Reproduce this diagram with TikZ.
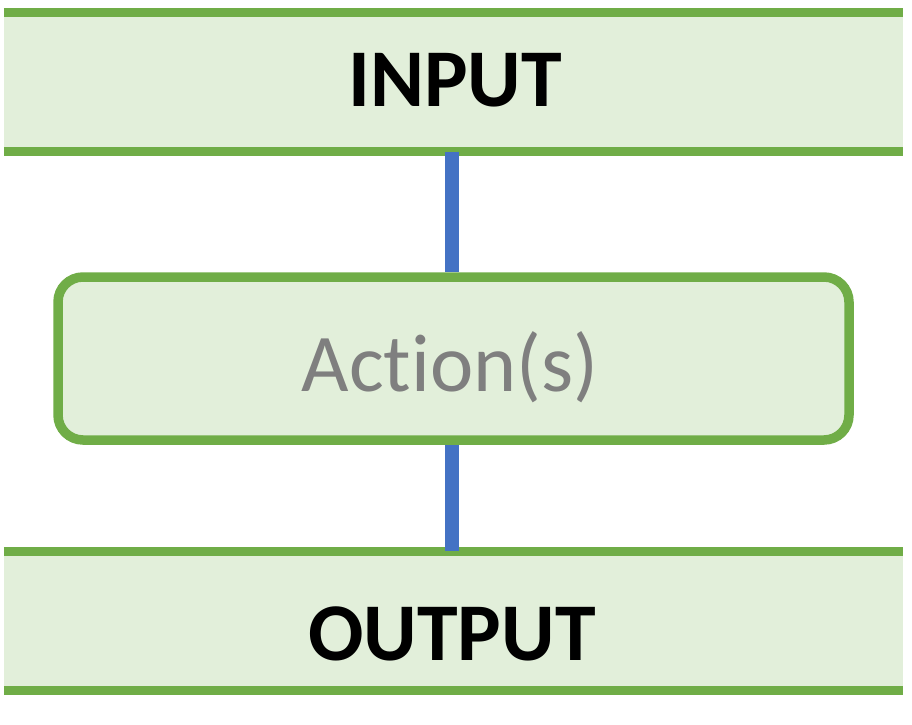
\documentclass[tikz,border=0pt]{standalone}
\usepackage{fontspec}
\setmainfont{Carlito}[Ligatures=NoCommon]
\definecolor{leafgreen}{HTML}{70AD47}
\definecolor{palegreen}{HTML}{E2EFDA}
\definecolor{linkblue}{HTML}{4472C4}
\definecolor{softgray}{HTML}{7F7F7F}
\begin{document}
\begin{tikzpicture}[x=1pt, y=-1pt,
    band/.style={fill=palegreen, inner sep=0, minimum width=899pt, minimum height=139pt},
    bandline/.style={draw=leafgreen, line width=9pt},
    bandtext/.style={anchor=base, inner sep=0, font=\fontsize{82}{82}\selectfont\bfseries},
    boxtext/.style={anchor=base, inner sep=0, text=softgray, font=\fontsize{82}{82}\selectfont},
    link/.style={draw=linkblue, line width=14pt}]

    \useasboundingbox (0, 0) rectangle (912, 724);

    % Bands
    \node[band] (input) at (453.5, 82) {};
    \node[band] (output) at (453.5, 621) {};
    \draw[bandline] (input.north west) -- (input.north east);
    \draw[bandline] (input.south west) -- (input.south east);
    \draw[bandline] (output.north west) -- (output.north east);
    \draw[bandline] (output.south west) -- (output.south east);

    % Action box
    \node[draw=leafgreen, fill=palegreen, line width=9.5pt, rounded corners=25pt,
    inner sep=0, minimum width=791pt, minimum height=163pt] (action) at (453.5, 358.5) {};

    % Texts
    \node[bandtext] (inputtext) at (455, 106) {INPUT};
    \node[bandtext] (outputtext) at (452, 660) {OUTPUT};
    \node[boxtext] (actiontext) at (450, 391) {Action(s)};

    % Lines
    \draw[link] ([xshift=-1.5pt]input.south) -- ([xshift=-1.5pt]action.north);
    \draw[link] ([xshift=-1.5pt]action.south) -- ([xshift=-1.5pt]output.north);

\end{tikzpicture}
\end{document}
